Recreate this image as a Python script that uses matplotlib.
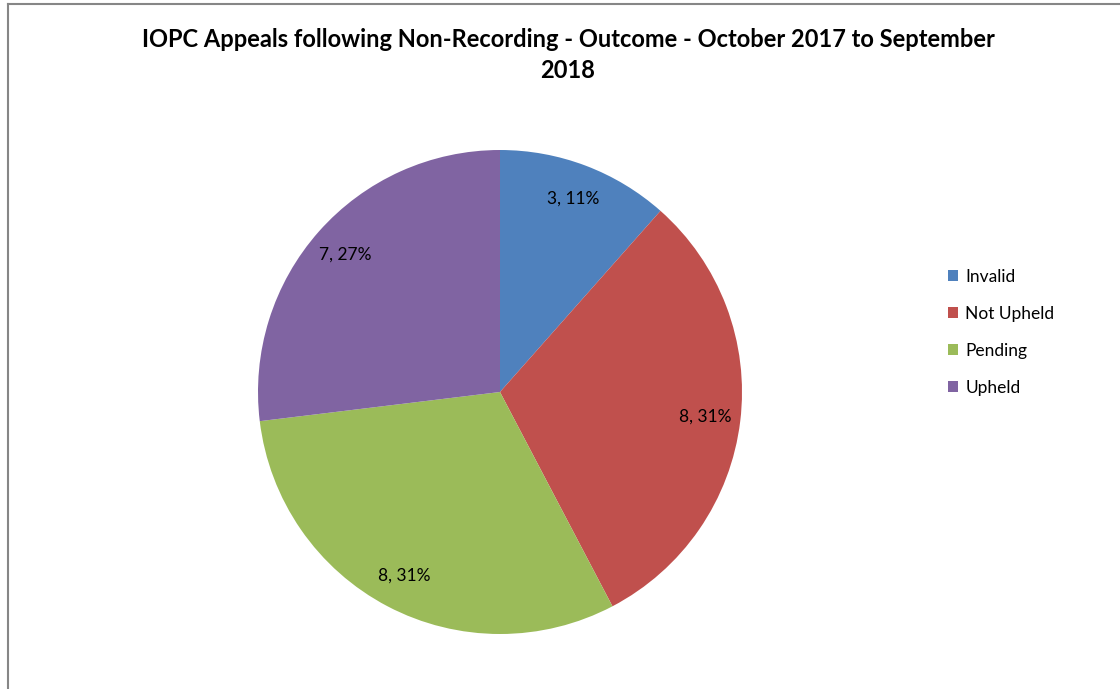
import matplotlib
matplotlib.use("Agg")
import matplotlib.pyplot as plt
from matplotlib.lines import Line2D

categories = ["Invalid", "Not Upheld", "Pending", "Upheld"]
values = [3, 8, 8, 7]
pct_labels = ["11%", "31%", "31%", "27%"]
colors = ["#4F81BD", "#C0504D", "#9BBB59", "#8064A2"]
title = "IOPC Appeals following Non-Recording - Outcome - October 2017 to September\n2018"

plt.rcParams['font.family'] = ['Lato', 'DejaVu Sans']

W, H = 1120, 689
fig = plt.figure(figsize=(W / 100, H / 100), dpi=100)

cx, cy, R = 500, 392, 242
ax = fig.add_axes([(cx - R) / W, (H - cy - R) / H, 2 * R / W, 2 * R / H])

label_iter = iter(zip(values, pct_labels))
def fmt(p):
    v, pl = next(label_iter)
    return f"{v}, {pl}"

wedges, texts, autotexts = ax.pie(values, colors=colors, startangle=90, counterclock=False,
                                  autopct=fmt, pctdistance=0.855,
                                  textprops=dict(fontsize=12.5, color="#000000"))
ax.set_xlim(-1, 1)
ax.set_ylim(-1, 1)
ax.set_aspect('equal')

fig.text(568 / W, 1 - 55 / H, title, ha='center', va='center', fontsize=17,
         fontweight='bold', linespacing=1.38)

fig.legend(handles=wedges, labels=categories, loc='upper left',
           bbox_to_anchor=(948 / W, 1 - 269 / H), frameon=False,
           handlelength=0.6, handleheight=0.6, handletextpad=0.4,
           labelspacing=1.2, fontsize=12.5, borderpad=0, borderaxespad=0)

# chart frame (top and left edges visible)
fig.add_artist(Line2D([8 / W, 8 / W], [0, 1 - 4 / H], transform=fig.transFigure,
                      color="#868686", linewidth=1.5))
fig.add_artist(Line2D([8 / W, 1], [1 - 4 / H, 1 - 4 / H], transform=fig.transFigure,
                      color="#868686", linewidth=1.5))

fig.savefig("out.png", dpi=100, facecolor="white")
